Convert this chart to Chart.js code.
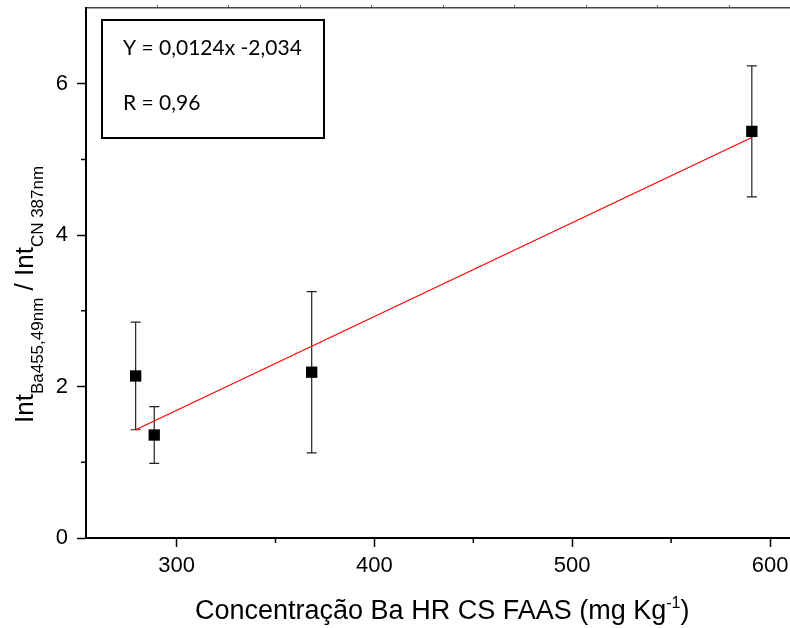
<!DOCTYPE html>
<html>
<head>
<meta charset="utf-8">
<script src="https://cdn.jsdelivr.net/npm/chart.js@4.4.1/dist/chart.umd.min.js"></script>
<style>
  body { margin: 0; background: #fff; overflow: hidden; }
  #wrap { width: 790px; height: 628px; }
  canvas { display: block; }
</style>
</head>
<body>
<div id="wrap"><canvas id="chart" width="790" height="628"></canvas></div>
<script>
// Data
const concBa = [279.3, 288.7, 368.3, 590.8];       // mg/Kg (HR CS FAAS)
const intRatio = [2.14, 1.36, 2.19, 5.37];          // Int Ba455 / Int CN387
const intRatioErr = [0.71, 0.375, 1.065, 0.865];    // +/- error bar
const fitX = [279.3, 590.8];
const fitY = [1.43, 5.29];
const xMajorTicks = [300, 400, 500, 600];
const xMinorTicks = [350, 450, 550];
const yMajorTicks = [0, 2, 4, 6];
const yMinorTicks = [1, 3, 5];
const eqLines = ['Y = 0,0124x -2,034', 'R = 0,96'];

const tickFont = { family: 'Liberation Sans, Arial, sans-serif', size: 22 };

// kill the auto label padding so the plot area lands where we want
function noPad(s) {
    s.paddingTop = 0; s.paddingBottom = 0; s.paddingLeft = 0; s.paddingRight = 0;
}

// error bars under the markers
const errorBars = {
    id: 'errorBars',
    beforeDatasetsDraw(chart) {
        const xs = chart.scales.x, ys = chart.scales.y;
        const ctx = chart.ctx;
        ctx.save();
        ctx.strokeStyle = '#222';
        ctx.lineWidth = 1.2;
        concBa.forEach((x, i) => {
            const px = xs.getPixelForValue(x);
            const top = ys.getPixelForValue(intRatio[i] + intRatioErr[i]);
            const bot = ys.getPixelForValue(intRatio[i] - intRatioErr[i]);
            ctx.beginPath();
            ctx.moveTo(px, top); ctx.lineTo(px, bot);
            ctx.moveTo(px - 5, top); ctx.lineTo(px + 5, top);
            ctx.moveTo(px - 5, bot); ctx.lineTo(px + 5, bot);
            ctx.stroke();
        });
        ctx.restore();
    }
};

// minor ticks, axis titles with sub/superscripts, equation box
const decorations = {
    id: 'decorations',
    afterDraw(chart) {
        const ctx = chart.ctx;
        const xs = chart.scales.x, ys = chart.scales.y;
        const area = chart.chartArea;
        ctx.save();
        ctx.strokeStyle = '#000';
        ctx.lineWidth = 1.5;
        ctx.beginPath();
        xMinorTicks.forEach(v => {
            const px = xs.getPixelForValue(v);
            ctx.moveTo(px, area.bottom); ctx.lineTo(px, area.bottom + 5);
        });
        yMinorTicks.forEach(v => {
            const py = ys.getPixelForValue(v);
            ctx.moveTo(area.left, py); ctx.lineTo(area.left - 5, py);
        });
        ctx.stroke();

        // x title
        ctx.fillStyle = '#000';
        ctx.textBaseline = 'alphabetic';
        ctx.textAlign = 'left';
        const big = '27px Liberation Sans, Arial, sans-serif';
        const sup = '16px Liberation Sans, Arial, sans-serif';
        let x = 195;
        const yBase = 619;
        ctx.font = big;
        const t1 = 'Concentração Ba HR CS FAAS (mg Kg';
        ctx.fillText(t1, x, yBase);
        x += ctx.measureText(t1).width;
        ctx.font = sup;
        ctx.fillText('-1', x, yBase - 11);
        x += ctx.measureText('-1').width;
        ctx.font = big;
        ctx.fillText(')', x, yBase);

        // y title (rotated)
        ctx.save();
        ctx.translate(33, 423);
        ctx.rotate(-Math.PI / 2);
        const yBig = '26px Liberation Sans, Arial, sans-serif';
        const ySub = '17px Liberation Sans, Arial, sans-serif';
        const parts = [
            ['Int', yBig, 0],
            ['Ba455,49nm', ySub, 10],
            [' / Int', yBig, 0],
            ['CN 387nm', ySub, 10]
        ];
        let tx = 0;
        parts.forEach(([s, f, dy]) => {
            ctx.font = f;
            ctx.fillText(s, tx, dy);
            tx += ctx.measureText(s).width;
        });
        ctx.restore();

        // equation box
        const bx = area.left + 16, by = area.top + 12;
        ctx.lineWidth = 2;
        ctx.strokeRect(bx, by, 222, 118);
        ctx.font = '21px Lato, sans-serif';
        ctx.textBaseline = 'middle';
        ctx.fillText(eqLines[0], bx + 21, by + 28);
        ctx.fillText(eqLines[1], bx + 21, by + 83);
        ctx.restore();
    }
};

const chart = new Chart(document.getElementById('chart'), {
    type: 'scatter',
    data: {
        datasets: [
            {
                label: 'data',
                data: concBa.map((x, i) => ({ x: x, y: intRatio[i] })),
                pointStyle: 'rect',
                pointRadius: 8,
                pointHoverRadius: 8,
                backgroundColor: '#000',
                borderColor: '#000',
                borderWidth: 0,
                order: 0
            },
            {
                label: 'fit',
                type: 'line',
                data: fitX.map((x, i) => ({ x: x, y: fitY[i] })),
                borderColor: '#ff0000',
                borderWidth: 1.2,
                pointRadius: 0,
                fill: false,
                order: 1
            }
        ]
    },
    options: {
        responsive: false,
        animation: false,
        layout: { padding: 0, autoPadding: false },
        plugins: { legend: { display: false }, tooltip: { enabled: false } },
        scales: {
            x: {
                type: 'linear',
                position: 'bottom',
                min: 254.2,
                max: 610.1,
                afterBuildTicks: s => { s.ticks = xMajorTicks.map(v => ({ value: v })); },
                afterFit: s => { s.height = 90; noPad(s); },
                ticks: { font: tickFont, color: '#000', padding: 6, maxRotation: 0 },
                grid: { drawOnChartArea: false, drawTicks: true, tickLength: 9, tickWidth: 1.5, tickColor: '#000' },
                border: { display: true, color: '#000', width: 2 }
            },
            x2: {
                type: 'linear',
                position: 'top',
                min: 0,
                max: 9.85,
                afterBuildTicks: s => { s.ticks = [1, 2, 3, 4, 5, 6, 7, 8, 9].map(v => ({ value: v })); },
                afterFit: s => { s.height = 8; noPad(s); },
                ticks: { display: false },
                grid: { drawOnChartArea: false, drawTicks: true, tickLength: 3, tickWidth: 1, tickColor: '#666' },
                border: { display: true, color: '#444', width: 1.5 }
            },
            y: {
                type: 'linear',
                min: 0,
                max: 7,
                afterBuildTicks: s => { s.ticks = yMajorTicks.map(v => ({ value: v })); },
                afterFit: s => { s.width = 86; noPad(s); },
                ticks: { font: tickFont, color: '#000', padding: 9 },
                grid: { drawOnChartArea: false, drawTicks: true, tickLength: 9, tickWidth: 1.5, tickColor: '#000' },
                border: { display: true, color: '#000', width: 2 }
            }
        }
    },
    plugins: [errorBars, decorations]
});
</script>
</body>
</html>
